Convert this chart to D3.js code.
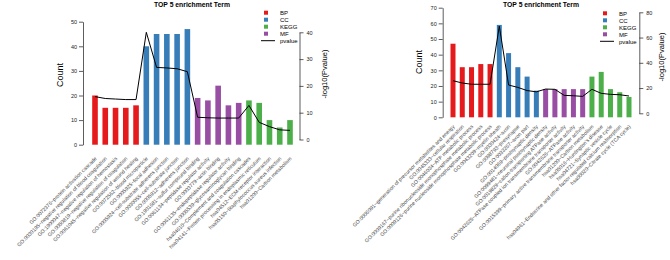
<!DOCTYPE html>
<html>
<head>
<meta charset="utf-8">
<script src="https://cdn.jsdelivr.net/npm/d3@7"></script>
<style>
  body { margin: 0; background: #fff; }
  text { font-family: "Liberation Sans", Arial, sans-serif; }
</style>
</head>
<body>
<svg id="chart" width="670" height="260"></svg>
<script>
// legend groups and their colours
let groups = ["BP", "CC", "KEGG", "MF"];
let groupColors = ["#E41A1C", "#377EB8", "#4DAF4A", "#984EA3"];

// left chart
let leftTerms = [
    "GO:0072376~protein activation cascade",
    "GO:0030195~negative regulation of blood coagulation",
    "GO:1900047~negative regulation of hemostasis",
    "GO:0050819~negative regulation of coagulation",
    "GO:0061045~negative regulation of wound healing",
    "GO:0072562~blood microparticle",
    "GO:0005925~focal adhesion",
    "GO:0005924~cell-substrate adherens junction",
    "GO:0030055~cell-substrate junction",
    "GO:0005912~adherens junction",
    "GO:1901681~sulfur compound binding",
    "GO:0061134~peptidase regulator activity",
    "GO:0003779~actin binding",
    "GO:0061135~endopeptidase regulator activity",
    "GO:0005539~glycosaminoglycan binding",
    "hsa04610~Complement and coagulation cascades",
    "hsa04141~Protein processing in endoplasmic reticulum",
    "hsa04512~ECM-receptor interaction",
    "hsa05150~Staphylococcus aureus infection",
    "hsa01200~Carbon metabolism"
];
let leftGroups = ["BP","BP","BP","BP","BP","CC","CC","CC","CC","CC",
                  "MF","MF","MF","MF","MF","KEGG","KEGG","KEGG","KEGG","KEGG"];
let leftCounts = [20, 15, 15, 15, 16, 40, 45, 45, 45, 47, 19, 18, 24, 16, 17, 18, 17, 10, 7, 10];
let leftLogP = [16.0, 15.3, 15.1, 14.9, 14.9, 40.0, 26.9, 26.7, 26.4, 25.3,
                8.3, 8.1, 8.0, 8.0, 8.0, 12.7, 6.4, 4.8, 3.6, 3.4];
let leftCountTicks = [0, 10, 20, 30, 40, 50];
let leftPTicks = [0, 10, 20, 30, 40];

// right chart
let rightTerms = [
    "GO:0006091~generation of precursor metabolites and energy",
    "GO:0045333~cellular respiration",
    "GO:0046034~ATP metabolic process",
    "GO:0009167~purine ribonucleoside monophosphate metabolic process",
    "GO:0009126~purine nucleoside monophosphate metabolic process",
    "GO:0043209~myelin sheath",
    "GO:0030424~axon",
    "GO:0098793~presynapse",
    "GO:0033267~axon part",
    "GO:0014069~postsynaptic density",
    "GO:0099481~neuronal postsynaptic density",
    "GO:0019829~cation-transporting ATPase activity",
    "GO:0042625~ATPase coupled ion transmembrane transporter activity",
    "GO:0042626~ATPase activity",
    "GO:0015399~primary active transmembrane transporter activity",
    "hsa01200~Carbon metabolism",
    "hsa05016~Huntington's disease",
    "hsa04721~Synaptic vesicle cycle",
    "hsa04961~Endocrine and other factor-regulated calcium reabsorption",
    "hsa00020~Citrate cycle (TCA cycle)"
];
let rightGroups = leftGroups;
let rightCounts = [47, 32, 32, 34, 34, 59, 41, 32, 26, 17, 18, 18, 18, 18, 18, 26, 29, 18, 16, 13];
let rightLogP = [25.8, 24.0, 23.0, 23.0, 23.0, 69.0, 22.4, 20.5, 18.0, 17.0,
                 19.2, 19.0, 14.2, 13.9, 13.4, 19.0, 15.8, 15.0, 14.7, 13.7];
let rightCountTicks = [0, 10, 20, 30, 40, 50, 60, 70];
let rightPTicks = [0, 20, 40, 60, 80];

let color = d3.scaleOrdinal().domain(groups).range(groupColors);
let svg = d3.select("#chart");

function drawPanel(p) {
    let n = p.terms.length;
    let x = d3.scalePoint().domain(d3.range(n)).range([p.x0, p.x1]);
    let yC = d3.scaleLinear().domain([0, d3.max(p.countTicks)]).range([p.base, p.top]);
    let yP = d3.scaleLinear().domain([0, d3.max(p.pTicks)]).range([p.pBase, p.pTop]);
    let g = svg.append("g");

    // bars
    g.selectAll("rect.bar")
        .data(p.counts)
        .enter().append("rect")
        .attr("class", "bar")
        .attr("x", (d, i) => x(i) - p.barW / 2)
        .attr("y", d => yC(d))
        .attr("width", p.barW)
        .attr("height", d => yC(0) - yC(d))
        .attr("fill", (d, i) => color(p.groups[i]));

    // pvalue line
    let line = d3.line().x((d, i) => x(i)).y(d => yP(d));
    g.append("path")
        .datum(p.logp)
        .attr("d", line)
        .attr("fill", "none")
        .attr("stroke", "#000")
        .attr("stroke-width", 1);

    // axes
    let left = g.append("g")
        .attr("transform", "translate(" + p.axL + ",0)")
        .call(d3.axisLeft(yC).tickValues(p.countTicks).tickSize(4).tickSizeOuter(0).tickPadding(2));
    let right = g.append("g")
        .attr("transform", "translate(" + p.axR + ",0)")
        .call(d3.axisRight(yP).tickValues(p.pTicks).tickSize(4).tickSizeOuter(0).tickPadding(3));
    [left, right].forEach(a => {
        a.selectAll("path, line").attr("stroke", "#333").attr("stroke-width", 0.8);
        a.selectAll("text").attr("font-size", 5.5).attr("fill", "#222")
            .attr("font-family", "Liberation Sans, Arial, sans-serif");
    });

    // axis titles
    g.append("text")
        .attr("transform", "translate(" + p.countLabX + "," + p.countLabY + ") rotate(-90)")
        .attr("text-anchor", "middle")
        .attr("font-size", 9)
        .text("Count");
    g.append("text")
        .attr("transform", "translate(" + p.pLabX + "," + p.pLabY + ") rotate(-90)")
        .attr("text-anchor", "middle")
        .attr("font-size", 7.5)
        .text("-log10(Pvalue)");

    // title
    g.append("text")
        .attr("x", p.titleX)
        .attr("y", 7)
        .attr("text-anchor", "middle")
        .attr("font-size", 6.8)
        .attr("font-weight", "bold")
        .text("TOP 5 enrichment Term");

    // category labels
    g.selectAll("text.term")
        .data(p.terms)
        .enter().append("text")
        .attr("class", "term")
        .attr("transform", (d, i) => "translate(" + (x(i) + 2) + "," + p.labY + ") rotate(-45)")
        .attr("text-anchor", "end")
        .attr("font-size", 5.2)
        .attr("fill", "#444")
        .text(d => d);

    // legend
    let legendG = g.selectAll(".legend")
        .data(groups.concat(["pvalue"]))
        .enter().append("g")
        .attr("class", "legend")
        .attr("transform", (d, i) => "translate(" + p.legX + "," + (p.legY + i * 7) + ")");
    legendG.filter(d => d !== "pvalue").append("rect")
        .attr("x", -2)
        .attr("y", -2)
        .attr("width", 4)
        .attr("height", 4)
        .attr("fill", d => color(d));
    legendG.filter(d => d === "pvalue").append("line")
        .attr("x1", -5).attr("x2", 9)
        .attr("stroke", "#000").attr("stroke-width", 1);
    legendG.append("text")
        .attr("x", 14)
        .attr("y", 2.2)
        .attr("font-size", 6)
        .text(d => d);
}

drawPanel({
    terms: leftTerms, groups: leftGroups, counts: leftCounts, logp: leftLogP,
    countTicks: leftCountTicks, pTicks: leftPTicks,
    x0: 95, x1: 290, barW: 5.6,
    base: 144.7, top: 21.7, pBase: 139.5, pTop: 32.3,
    axL: 83, axR: 299.5,
    countLabX: 63, countLabY: 75, pLabX: 327, pLabY: 74,
    titleX: 192, labY: 159,
    legX: 266, legY: 12.7
});

drawPanel({
    terms: rightTerms, groups: rightGroups, counts: rightCounts, logp: rightLogP,
    countTicks: rightCountTicks, pTicks: rightPTicks,
    x0: 453, x1: 629, barW: 5,
    base: 117.3, top: 7.7, pBase: 113.3, pTop: 12.3,
    axL: 442.7, axR: 639.3,
    countLabX: 422, countLabY: 62, pLabX: 664, pLabY: 57,
    titleX: 541, labY: 127,
    legX: 605, legY: 13.3
});
</script>
</body>
</html>
